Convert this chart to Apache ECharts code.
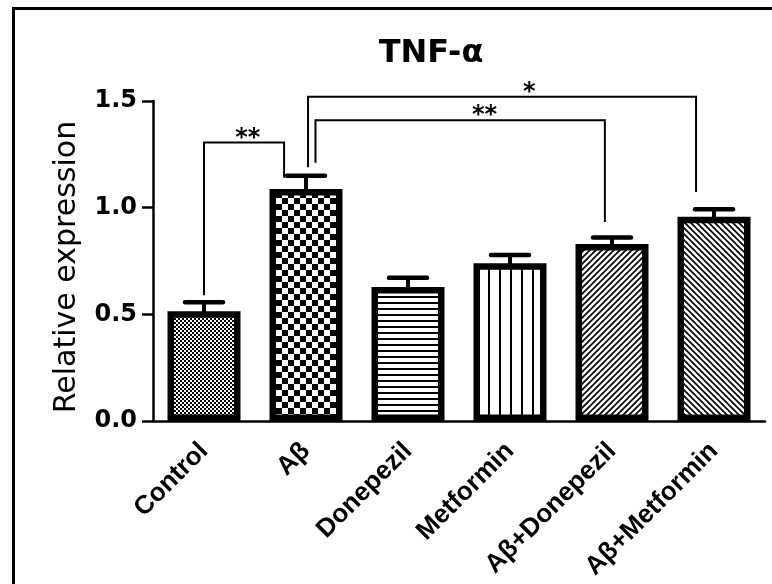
<!DOCTYPE html>
<html>
<head>
<meta charset="utf-8">
<script src="https://cdn.jsdelivr.net/npm/echarts@6/dist/echarts.min.js"></script>
<style>html,body{margin:0;padding:0;background:#fff}#c{width:772px;height:584px}</style>
</head>
<body>
<div id="c"></div>
<script>
// ---- data ----
const categories = ['Control', 'Aβ', 'Donepezil', 'Metformin', 'Aβ+Donepezil', 'Aβ+Metformin'];
const means = [0.515, 1.088, 0.628, 0.74, 0.83, 0.957];
const sems = [0.042, 0.062, 0.044, 0.038, 0.03, 0.035];
const yTicks = [0.0, 0.5, 1.0, 1.5];
// significance brackets: from / to category, bracket top level, end levels, label
const bracketFrom = [0, 1, 1];
const bracketTo = [1, 4, 5];
const bracketTop = [1.305, 1.41, 1.52];
const bracketLeftEnd = [0.59, 1.21, 1.19];
const bracketRightEnd = [1.14, 0.933, 1.074];
const bracketLabels = ['**', '**', '*'];

// ---- style helpers ----
const FONT = 'DejaVu Sans';
function pattern(w, h, draw) {
  const c = document.createElement('canvas');
  c.width = w; c.height = h;
  const g = c.getContext('2d');
  g.fillStyle = '#fff'; g.fillRect(0, 0, w, h);
  g.fillStyle = '#000'; g.strokeStyle = '#000';
  draw(g, w, h);
  return { image: c, repeat: 'repeat' };
}
const patterns = [
  pattern(4, 4, g => { g.fillRect(0, 0, 2, 2); g.fillRect(2, 2, 2, 2); }),
  pattern(12, 12, g => { g.fillRect(0, 0, 6, 6); g.fillRect(6, 6, 6, 6); }),
  pattern(6, 6, g => { g.fillRect(0, 2, 6, 2); }),
  pattern(11, 6, g => { g.fillRect(4, 0, 2, 6); }),
  pattern(6, 6, (g, w, h) => {
    g.lineWidth = 1.7; g.beginPath();
    g.moveTo(-1, h + 1); g.lineTo(w + 1, -1);
    g.moveTo(-1, 1); g.lineTo(1, -1);
    g.moveTo(w - 1, h + 1); g.lineTo(w + 1, h - 1);
    g.stroke();
  }),
  pattern(6, 6, (g, w, h) => {
    g.lineWidth = 1.7; g.beginPath();
    g.moveTo(-1, -1); g.lineTo(w + 1, h + 1);
    g.moveTo(w - 1, -1); g.lineTo(w + 1, 1);
    g.moveTo(-1, h - 1); g.lineTo(1, h + 1);
    g.stroke();
  })
];
// bracket end offsets and label positions (fractions of a category band), style only
const bracketLeftOff = [0, 0.093, 0.02];
const bracketRightOff = [-0.215, -0.07, -0.176];
const bracketLabelPos = [0.43, 2.75, 3.19];

const chart = echarts.init(document.getElementById('c'), null, { renderer: 'canvas' });
chart.setOption({
  animation: false,
  backgroundColor: '#fff',
  grid: { left: 153, right: 7, top: 101, bottom: 163, containLabel: false, outerBoundsMode: 'none' },
  graphic: [
    { type: 'rect', shape: { x: 13.5, y: 8.5, width: 800, height: 620 },
      style: { fill: 'none', stroke: '#000', lineWidth: 3 }, z: 100 },
    { type: 'text', x: 431, y: 54, style: { text: 'TNF-α', font: 'bold 32px "' + FONT + '"',
      fill: '#000', align: 'center', verticalAlign: 'middle' } }
  ],
  xAxis: {
    type: 'category',
    data: categories,
    axisLine: { lineStyle: { color: '#000', width: 2.5 } },
    axisTick: { alignWithLabel: true, length: 9, lineStyle: { color: '#000', width: 2.5 } },
    axisLabel: { rotate: 45, margin: 26, color: '#000', fontFamily: 'Liberation Sans', fontWeight: 'bold', fontSize: 26, interval: 0 }
  },
  yAxis: {
    type: 'value',
    min: 0, max: 1.5, interval: 0.5,
    name: 'Relative expression',
    nameLocation: 'middle', nameRotate: 90, nameGap: 71,
    nameTextStyle: { color: '#000', fontFamily: FONT, fontSize: 30, padding: [0, 12, 0, 0] },
    splitLine: { show: false },
    axisLine: { show: true, lineStyle: { color: '#000', width: 2.5 } },
    axisTick: { show: true, length: 11, lineStyle: { color: '#000', width: 2.5 } },
    axisLabel: { margin: 16, color: '#000', fontFamily: FONT, fontWeight: 'bold', fontSize: 24,
      formatter: v => yTicks.indexOf(v) >= 0 ? v.toFixed(1) : '' }
  },
  series: [
    {
      type: 'bar',
      barWidth: 73,
      data: means.map((v, i) => ({ value: v, itemStyle: { color: patterns[i] } })),
      itemStyle: { borderColor: '#000', borderWidth: 6.5 },
      z: 2
    },
    {
      type: 'custom',
      z: 3,
      clip: false,
      data: means.map((v, i) => [i, v, sems[i]]),
      renderItem: (params, api) => {
        const p0 = api.coord([api.value(0), api.value(1)]);
        const p1 = api.coord([api.value(0), api.value(1) + api.value(2)]);
        return { type: 'group', children: [
          { type: 'line', shape: { x1: p0[0], y1: p0[1] + 2, x2: p1[0], y2: p1[1] }, style: { stroke: '#000', lineWidth: 4 } },
          { type: 'line', shape: { x1: p1[0] - 19, y1: p1[1], x2: p1[0] + 19, y2: p1[1] }, style: { stroke: '#000', lineWidth: 4.5, lineCap: 'round' } }
        ] };
      }
    },
    {
      type: 'custom',
      z: 4,
      clip: false,
      data: bracketFrom.map((f, j) => [f, bracketTo[j], bracketTop[j], bracketLeftEnd[j], bracketRightEnd[j], j]),
      renderItem: (params, api) => {
        const j = api.value(5);
        const band = api.size([1, 0])[0];
        const xl = api.coord([api.value(0), 0])[0] + bracketLeftOff[j] * band;
        const xr = api.coord([api.value(1), 0])[0] + bracketRightOff[j] * band;
        const yt = api.coord([0, api.value(2)])[1];
        const yl = api.coord([0, api.value(3)])[1];
        const yr = api.coord([0, api.value(4)])[1];
        const lp = bracketLabelPos[j];
        const xlab = api.coord([Math.floor(lp), 0])[0] + (lp - Math.floor(lp)) * band;
        return { type: 'group', children: [
          { type: 'polyline', shape: { points: [[xl, yl], [xl, yt], [xr, yt], [xr, yr]] },
            style: { stroke: '#000', lineWidth: 2, fill: 'none' } },
          { type: 'text', x: xlab, y: yt + 8, style: { text: bracketLabels[j], font: 'bold 24px "' + FONT + '"',
            fill: '#000', align: 'center', verticalAlign: 'bottom' } }
        ] };
      }
    }
  ]
});
</script>
</body>
</html>
